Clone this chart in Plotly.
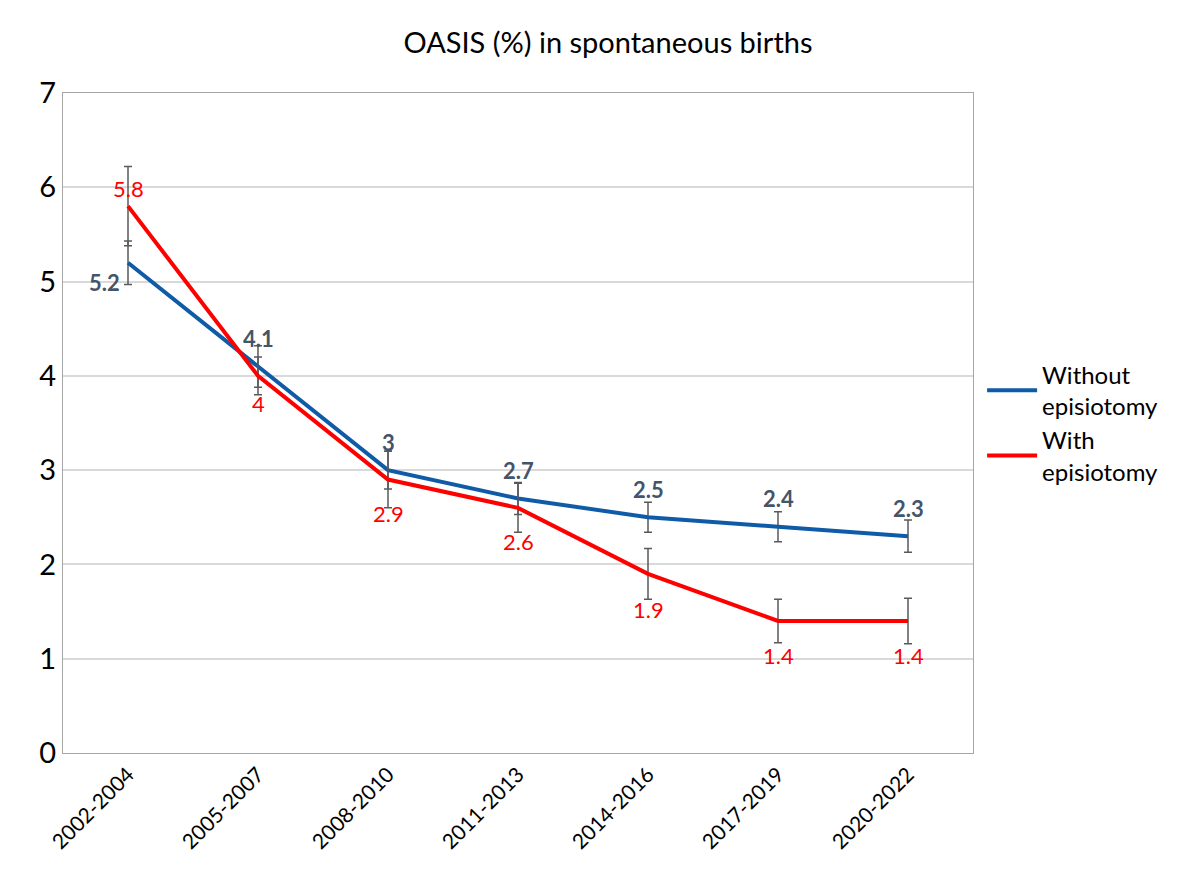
import plotly.graph_objects as go

periods = ["2002-2004","2005-2007","2008-2010","2011-2013","2014-2016","2017-2019","2020-2022"]
without_ep = [5.2, 4.1, 3.0, 2.7, 2.5, 2.4, 2.3]
without_err = [0.23, 0.22, 0.2, 0.17, 0.16, 0.16, 0.17]
with_ep = [5.8, 4.0, 2.9, 2.6, 1.9, 1.4, 1.4]
with_err = [0.42, 0.2, 0.3, 0.26, 0.27, 0.23, 0.24]
# label placement: (xshift, yshift) in px
without_shift = [(-24, -20), (0, 28), (0, 28), (0, 28), (0, 28), (0, 28), (0, 28)]
with_shift = [(0, 18), (0, -28), (0, -34), (0, -34), (0, -36), (0, -34), (0, -34)]

F = "Lato, Liberation Sans, sans-serif"
def fmt(v):
    return str(int(v)) if v == int(v) else str(v)

fig = go.Figure()
fig.add_trace(go.Scatter(x=periods, y=without_ep, mode="lines", name="Without<br>episiotomy",
    line=dict(color="#0F5BA7", width=4),
    error_y=dict(type="data", array=without_err, color="#595959", thickness=1.5, width=4)))
fig.add_trace(go.Scatter(x=periods, y=with_ep, mode="lines", name="With<br>episiotomy",
    line=dict(color="#FF0000", width=4),
    error_y=dict(type="data", array=with_err, color="#595959", thickness=1.5, width=4)))
for p, v, (dx, dy) in zip(periods, without_ep, without_shift):
    fig.add_annotation(x=p, y=v, text="<b>" + fmt(v) + "</b>", showarrow=False, xshift=dx, yshift=dy,
                       font=dict(family=F, size=22, color="#44546A"))
for p, v, (dx, dy) in zip(periods, with_ep, with_shift):
    fig.add_annotation(x=p, y=v, text=fmt(v), showarrow=False, xshift=dx, yshift=dy,
                       font=dict(family=F, size=22, color="#FF0000"))
fig.update_layout(
    width=1200, height=879, paper_bgcolor="white", plot_bgcolor="white",
    margin=dict(l=55, r=235, t=85, b=134),
    title=dict(text="OASIS (%) in spontaneous births", x=0.5, xanchor="center", y=0.972,
               font=dict(family=F, size=29, color="black")),
    font=dict(family=F, color="black"),
    legend=dict(x=1.01, y=0.5, yanchor="middle", font=dict(size=24), tracegroupgap=75,
                itemwidth=50),
    xaxis=dict(tickangle=-45, tickfont=dict(size=21), showline=True, linecolor="#A6A6A6", mirror=True,
               showgrid=False, range=[-0.5, 6.5]),
    yaxis=dict(range=[0, 7], dtick=1, tickfont=dict(size=29), showline=True, linecolor="#A6A6A6",
               mirror=True, gridcolor="#D9D9D9", gridwidth=1.5, ticklen=0, zeroline=False),
)
fig.write_html("out.html")
